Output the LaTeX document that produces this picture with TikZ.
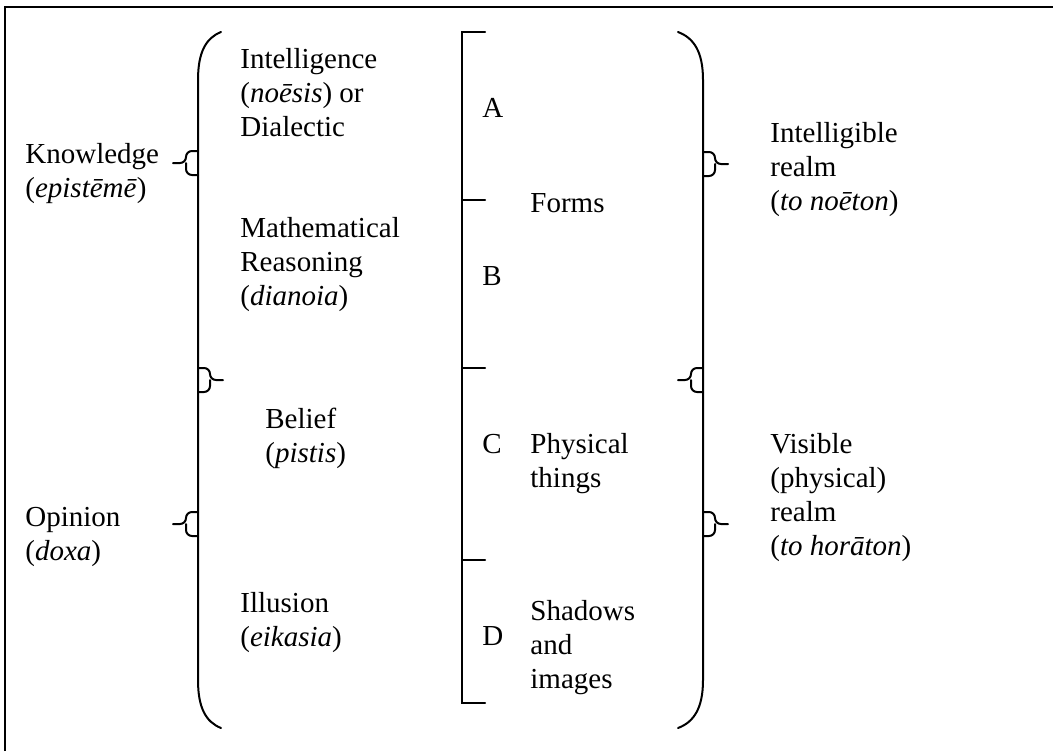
\documentclass[tikz,border=0pt]{standalone}
\usepackage{fontspec}
\setmainfont{Liberation Serif}
\usepackage{tikz}
\usetikzlibrary{positioning}
% small side brace: #1 x of the bracket line, #2 y of its middle, #3 = 1 (right) or -1 (left)
\newcommand{\tagbrace}[3]{%
    \draw[bracket, rounded corners=3] (#1,#2-12) -- ++(#3*12,0) -- ++(0,12) -- ++(#3*13,0)
        ++(-#3*13,0) -- ++(0,12) -- ++(-#3*12,0);
}

\begin{document}
\begin{tikzpicture}[x=0.5pt, y=-0.5pt,
        txt/.style={anchor=base west, align=left, inner sep=0pt, font=\fontsize{14.5pt}{17pt}\selectfont},
        bracket/.style={line width=1pt, line cap=round}]
        \useasboundingbox (0,0) rectangle (1053,751);

        % frame
        \draw[line width=1pt] (5,751) -- (5,7) -- (1053,7);

        % left column (placed at the baseline of the last line)
        \node[txt] (know) at (25,197) {Knowledge\\(\textit{epistēmē})};
        \node[txt] (opin) at (25,560) {Opinion\\(\textit{doxa})};

        % the states of mind
        \node[txt] (noesis) at (240,136) {Intelligence\\(\textit{noēsis}) or\\Dialectic};
        \node[txt] (dianoia) at (240,305) {Mathematical\\Reasoning\\(\textit{dianoia})};
        \node[txt] (pistis) at (265,462) {Belief\\(\textit{pistis})};
        \node[txt] (eikasia) at (240,646) {Illusion\\(\textit{eikasia})};

        % the line segments
        \foreach \s/\y in {A/117, B/285, C/453, D/645}{
            \node[txt] (seg\s) at (482,\y) {\s};
        }

        % the objects
        \node[txt] (forms) at (530,212) {Forms};
        \node[txt] (things) at (530,487) {Physical\\things};
        \node[txt] (shadows) at (530,688) {Shadows\\and\\images};

        % the realms
        \node[txt] (noeton) at (770,210) {Intelligible\\realm\\(\textit{to noēton})};
        \node[txt] (horaton) at (770,555) {Visible\\(physical)\\realm\\(\textit{to horāton})};

        % left big bracket
        \draw[bracket] (221,32) .. controls (206,38) and (198,52) .. (198,80) -- (198,680)
            .. controls (198,708) and (206,722) .. (221,728);
        % right big bracket
        \draw[bracket] (678,32) .. controls (694,38) and (703,52) .. (703,80) -- (703,680)
            .. controls (703,708) and (694,722) .. (678,728);

        % the divided line
        \draw[bracket] (485,32) -- (462,32) -- (462,703) -- (485,703);
        \foreach \y in {200, 368, 560}{
            \draw[bracket] (462,\y) -- (485,\y);
        }

        % small braces
        \tagbrace{198}{163}{-1}
        \tagbrace{198}{524}{-1}
        \tagbrace{198}{380}{1}
        \tagbrace{703}{164}{1}
        \tagbrace{703}{380}{-1}
        \tagbrace{703}{524}{1}
    \end{tikzpicture}
\end{document}
